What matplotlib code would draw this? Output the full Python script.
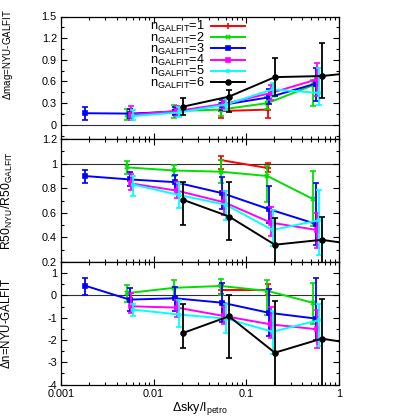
import matplotlib
matplotlib.use('Agg')
import matplotlib.pyplot as plt
from matplotlib.lines import Line2D
from matplotlib.ticker import LogLocator, MultipleLocator, FuncFormatter, NullFormatter
import numpy as np

plt.rcParams['font.family'] = ['Liberation Sans', 'DejaVu Sans']
plt.rcParams['mathtext.fontset'] = 'custom'
plt.rcParams['mathtext.rm'] = 'Liberation Sans'
plt.rcParams['mathtext.it'] = 'Liberation Sans:italic'
plt.rcParams['mathtext.bf'] = 'Liberation Sans:bold'

series_labels = [r"n$_{\rm GALFIT}$=1", r"n$_{\rm GALFIT}$=2", r"n$_{\rm GALFIT}$=3",
                 r"n$_{\rm GALFIT}$=4", r"n$_{\rm GALFIT}$=5", r"n$_{\rm GALFIT}$=6"]

# x positions (Δsky / I_petro) per series
x1 = [0.053, 0.17]
x2 = [0.0052, 0.0167, 0.053, 0.169, 0.53]
x3 = [0.0018, 0.0055, 0.017, 0.055, 0.175, 0.56]
x4 = [0.00565, 0.018, 0.058, 0.184, 0.58]
x5 = [0.0060, 0.0189, 0.0603, 0.192, 0.61]
x6 = [0.0206, 0.065, 0.203, 0.65, 2.05]

# Panel 1: Δmag = NYU - GALFIT  (value, low, high)
mag1 = [0.19, 0.21];  mag1_lo = [0.10, 0.10];  mag1_hi = [0.29, 0.30]
mag2 = [0.14, 0.19, 0.21, 0.30, 0.55];  mag2_lo = [0.06, 0.10, 0.12, 0.22, 0.26];  mag2_hi = [0.22, 0.27, 0.30, 0.38, 0.62]
mag3 = [0.16, 0.155, 0.18, 0.275, 0.38, 0.57];  mag3_lo = [0.07, 0.10, 0.13, 0.20, 0.29, 0.33];  mag3_hi = [0.25, 0.22, 0.25, 0.35, 0.50, 0.78]
mag4 = [0.14, 0.19, 0.29, 0.44, 0.63];  mag4_lo = [0.06, 0.12, 0.22, 0.35, 0.40];  mag4_hi = [0.26, 0.26, 0.35, 0.55, 0.86]
mag5 = [0.12, 0.17, 0.28, 0.49, 0.44];  mag5_lo = [0.06, 0.11, 0.20, 0.38, 0.28];  mag5_hi = [0.20, 0.24, 0.36, 0.58, 0.78]
mag6 = [0.25, 0.39, 0.66, 0.675, 0.74];  mag6_lo = [0.13, 0.18, 0.40, 0.37, 0.40];  mag6_hi = [0.37, 0.48, 0.92, 1.13, 1.10]

# Panel 2: R50_NYU / R50_GALFIT
r1 = [1.03, 0.965];  r1_lo = [0.96, 0.93];  r1_hi = [1.06, 1.01]
r2 = [0.97, 0.945, 0.935, 0.90, 0.71];  r2_lo = [0.92, 0.90, 0.84, 0.69, 0.49];  r2_hi = [1.02, 0.99, 1.03, 0.98, 0.94]
r3 = [0.90, 0.872, 0.85, 0.76, 0.63, 0.51];  r3_lo = [0.84, 0.82, 0.79, 0.63, 0.52, 0.34];  r3_hi = [0.95, 0.93, 0.91, 0.89, 0.815, 0.84]
r4 = [0.84, 0.78, 0.685, 0.52, 0.46];  r4_lo = [0.79, 0.72, 0.58, 0.41, 0.31];  r4_hi = [0.92, 0.85, 0.78, 0.65, 0.60]
r5 = [0.83, 0.745, 0.665, 0.46, 0.54];  r5_lo = [0.74, 0.64, 0.545, 0.33, 0.26];  r5_hi = [0.90, 0.84, 0.78, 0.62, 0.79]
r6 = [0.707, 0.57, 0.34, 0.38, 0.327];  r6_lo = [0.50, 0.38, 0.10, 0.10, 0.10];  r6_hi = [0.85, 0.85, 0.56, 0.565, 0.60]

# Panel 3: Δn = NYU - GALFIT
n1 = [0.25, 0.25];  n1_lo = [0.05, 0.00];  n1_hi = [0.45, 0.50]
n2 = [0.10, 0.34, 0.42, 0.20, -0.34];  n2_lo = [-0.30, -0.10, 0.00, -0.90, -1.27];  n2_hi = [0.47, 0.70, 0.75, 0.70, 0.55]
n3 = [0.44, -0.19, -0.13, -0.33, -0.78, -1.04];  n3_lo = [0.00, -0.70, -0.70, -1.20, -1.80, -2.00];  n3_hi = [0.76, 0.35, 0.37, 0.57, 0.30, 0.78]
n4 = [-0.49, -0.55, -0.93, -1.30, -1.52];  n4_lo = [-0.79, -0.95, -1.30, -1.93, -2.37];  n4_hi = [0.12, -0.20, -0.50, -0.52, -0.65]
n5 = [-0.64, -0.86, -1.04, -1.63, -1.11];  n5_lo = [-0.93, -1.40, -1.67, -2.62, -2.27];  n5_hi = [-0.40, -0.19, -0.40, -0.70, -0.37]
n6 = [-1.69, -0.94, -2.57, -1.94, -2.26];  n6_lo = [-2.36, -2.80, -4.50, -4.50, -4.50];  n6_hi = [-0.37, 0.03, -0.27, -0.18, 0.00]

xs = [x1, x2, x3, x4, x5, x6]
panels = [
    ([mag1, mag2, mag3, mag4, mag5, mag6], [mag1_lo, mag2_lo, mag3_lo, mag4_lo, mag5_lo, mag6_lo], [mag1_hi, mag2_hi, mag3_hi, mag4_hi, mag5_hi, mag6_hi]),
    ([r1, r2, r3, r4, r5, r6], [r1_lo, r2_lo, r3_lo, r4_lo, r5_lo, r6_lo], [r1_hi, r2_hi, r3_hi, r4_hi, r5_hi, r6_hi]),
    ([n1, n2, n3, n4, n5, n6], [n1_lo, n2_lo, n3_lo, n4_lo, n5_lo, n6_lo], [n1_hi, n2_hi, n3_hi, n4_hi, n5_hi, n6_hi]),
]

colors = ['#ff0000', '#00e000', '#0000ff', '#ff00ff', '#00ffff', '#000000']
markers = ['+', 'x', 's', 's', 's', 'o']
msizes = [4, 3, 2.5, 3.5, 2, 3.5]

ylabels = [r"$\Delta$mag=NYU-GALFIT", r"R50$_{\rm NYU}$/R50$_{\rm GALFIT}$", r"$\Delta$n=NYU-GALFIT"]
ylabel_fs = [7.0, 8.8, 8.3]
ylabel_pos = [(-0.164, 0.69), (-0.166, 0.5), (-0.173, 0.5)]
ylims = [(-0.2, 1.5), (0.2, 1.2), (-4, 1.5)]
ymaj = [0.3, 0.2, 1.0]
ymin = [0.15, 0.1, 0.5]
refs = [0.0, 1.0, 0.0]

fig = plt.figure(figsize=(4, 4.2), dpi=100)
left, width = 61 / 400, 278 / 400
top_px, h_px = 16.5, 122.7
fs = 7.8

fmt = FuncFormatter(lambda v, p: '%g' % round(v, 6))

axes = []
for k in range(3):
    bottom = 1 - (top_px + (k + 1) * h_px) / 420
    ax = fig.add_axes([left, bottom, width, h_px / 420])
    axes.append(ax)
    vals, los, his = panels[k]
    ax.axhline(refs[k], color='#303030', lw=0.8, zorder=1)
    for i in range(6):
        y = np.array(vals[i]); lo = np.array(los[i]); hi = np.array(his[i])
        ax.errorbar(xs[i], y, yerr=[y - lo, hi - y], color=colors[i], lw=1.4,
                    marker=markers[i], ms=msizes[i], mew=1.2, capsize=2.5,
                    capthick=1.2, elinewidth=1.3, zorder=2 + i)
    ax.set_xscale('log')
    ax.set_xlim(0.001, 1)
    ax.set_ylim(*ylims[k])
    ax.yaxis.set_major_locator(MultipleLocator(ymaj[k]))
    ax.yaxis.set_minor_locator(MultipleLocator(ymin[k]))
    ax.yaxis.set_major_formatter(fmt)
    ax.xaxis.set_major_locator(LogLocator(base=10, numticks=10))
    ax.xaxis.set_minor_locator(LogLocator(base=10, subs=np.arange(2, 10), numticks=10))
    ax.xaxis.set_minor_formatter(NullFormatter())
    ax.tick_params(which='both', direction='in', top=True, right=True, labelsize=fs, pad=3)
    ax.tick_params(which='major', length=4.5, width=0.8)
    ax.tick_params(which='minor', length=2.5, width=0.8)
    for s in ax.spines.values():
        s.set_linewidth(0.9)
    ax.set_ylabel(ylabels[k], fontsize=ylabel_fs[k])
    ax.yaxis.set_label_coords(*ylabel_pos[k])
    if k < 2:
        ax.tick_params(axis='x', which='both', labelbottom=False)
    else:
        ax.xaxis.set_major_formatter(FuncFormatter(lambda v, p: '%g' % v))

axes[2].set_xlabel(r"$\Delta$sky/I$_{\rm petro}$", fontsize=9, labelpad=1)

handles = [Line2D([], [], color=colors[i], lw=1.4, marker=markers[i], ms=msizes[i], mew=1.2) for i in range(6)]
axes[0].legend(handles, series_labels, loc='upper left', bbox_to_anchor=(0.32, 0.978),
               frameon=False, markerfirst=False, handlelength=2.7, handletextpad=0.45,
               labelspacing=-0.3, borderpad=0, borderaxespad=0, fontsize=9.2)

fig.savefig('out.png', dpi=100)
